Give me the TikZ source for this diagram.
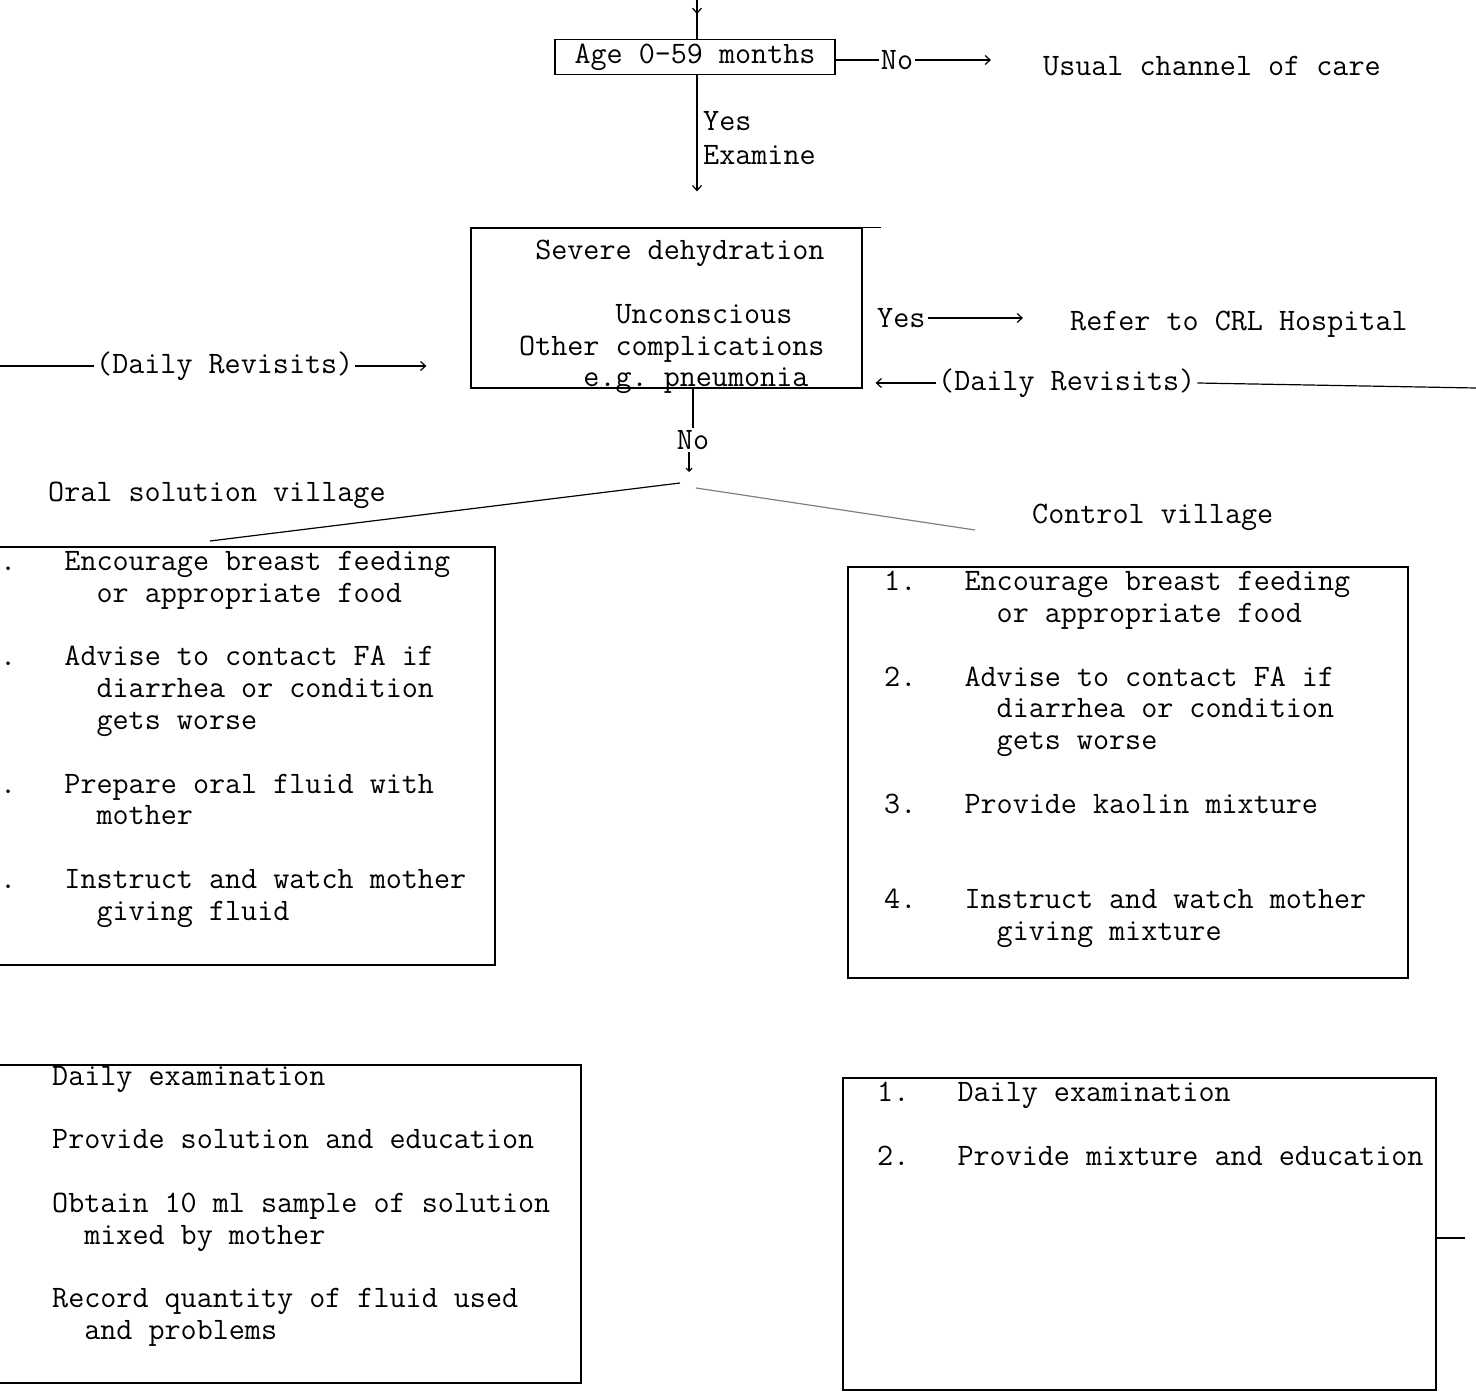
\documentclass[tikz,border=0pt]{standalone}
\usetikzlibrary{arrows.meta}
\newcommand\twfont{\ttfamily\fontsize{31.2}{31.8}\selectfont\frenchspacing}
\newcommand\skipc[1]{\hspace*{#1\fontcharwd\font`0}}
\begin{document}
\begin{tikzpicture}[x=1pt,y=-1pt,
  tw/.style={font=\twfont,inner sep=2pt},
  txt/.style={font=\twfont,inner sep=0pt,align=left,anchor=north west},
  boxx/.style={draw,line width=1.2pt,inner sep=0pt},
  ln/.style={line width=1.2pt},
  arr/.style={line width=1.2pt,-{Straight Barb[length=5pt,width=9pt]}}]
\useasboundingbox (0,0) rectangle (1476,1396);
\clip (0,0) rectangle (1476,1396);
\node[boxx,font=\twfont,minimum width=280pt,minimum height=35pt] (age) at (695,57) {Age 0-59 months};
\coordinate (top) at (697,0);
\draw[arr] (top) -- ++(0,14);
\draw[ln] (top) -- (age.north -| top);
\node[tw] (no1) at (897,60) {No};
\node[tw,anchor=west] (usual) at (1041,66) {Usual channel of care};
\draw[ln] (age.east |- no1) -- (no1.west);
\draw[arr,shorten >=50pt] (no1.east) -- (usual.west |- no1);
\node[boxx,minimum width=391pt,minimum height=160pt] (sev) at (666.5,308) {};
\draw[ln] (sev.north east) -- ++(18,0);
\node[txt] (sevtxt) at (519,240) {\skipc{1}Severe dehydration\\ \mbox{}\\ \skipc{6}Unconscious\\ Other complications\\ \skipc{4}e.g. pneumonia};
\draw[arr,shorten >=36pt] (age.south -| top) -- (top |- sev.north);
\node[tw,anchor=west] (yes1) at (701,121) {Yes};
\node[tw,anchor=west] (exam) at (701,155) {Examine};
\node[tw,anchor=west] (yes2) at (875,318) {Yes};
\node[tw,anchor=west] (refer) at (1068,324) {Refer to CRL Hospital};
\draw[arr,shorten >=45pt] (yes2.east) -- (refer.west |- yes2.east);
\node[tw,anchor=west] (drR) at (936,383) {(Daily Revisits)};
\coordinate (rin) at (1476,388);
\draw[ln] (rin) -- (drR.east);
\draw[arr,shorten >=13pt] (drR.west) -- (sev.east |- drR.west);
\node[tw,anchor=west] (drL) at (94,366) {(Daily Revisits)};
\coordinate (lin) at (0,366);
\draw[ln] (lin) -- (drL.west);
\draw[arr,shorten >=44pt] (drL.east) -- (sev.west |- drL.east);
\node[tw] (no2) at (693,440) {No};
\draw[ln] (sev.south -| no2) -- (no2.north);
\coordinate (fork) at (689,472);
\draw[ln,-{Straight Barb[length=3pt,width=6pt]}] (no2.south -| fork) -- (fork);
\coordinate (forkL) at (680,483);
\coordinate (forkR) at (696,488);
\coordinate (endL) at (210,541);
\coordinate (endR) at (975,530);
\draw[ln] (forkL) -- (endL);
\draw[ln,gray] (forkR) -- (endR);
\node[tw,anchor=west] (oralv) at (46,495) {Oral solution village};
\node[tw,anchor=west] (ctrlv) at (1030,517) {Control village};
\node[boxx,minimum width=520pt,minimum height=418pt] (oral) at (235,756) {};
\node[txt] (oraltxt) at (0,551) {.~~~Encourage breast feeding\\ \skipc{6}or appropriate food\\ \mbox{}\\
 .~~~Advise to contact FA if\\ \skipc{6}diarrhea or condition\\ \skipc{6}gets worse\\ \mbox{}\\
 .~~~Prepare oral fluid with\\ \skipc{6}mother\\ \mbox{}\\
 .~~~Instruct and watch mother\\ \skipc{6}giving fluid};
\node[boxx,minimum width=560pt,minimum height=411pt] (ctrl) at (1128,772.5) {};
\node[txt] (ctrltxt) at (884,571) {1.~~~Encourage breast feeding\\ \skipc{7}or appropriate food\\ \mbox{}\\
 2.~~~Advise to contact FA if\\ \skipc{7}diarrhea or condition\\ \skipc{7}gets worse\\ \mbox{}\\
 3.~~~Provide kaolin mixture\\ \mbox{}\\ \mbox{}\\
 4.~~~Instruct and watch mother\\ \skipc{7}giving mixture};
\node[boxx,minimum width=606pt,minimum height=318pt] (oral2) at (278,1224) {};
\node[txt] (oral2txt) at (52,1066) {Daily examination\\ \mbox{}\\ Provide solution and education\\ \mbox{}\\
 Obtain 10 ml sample of solution\\ \skipc{2}mixed by mother\\ \mbox{}\\
 Record quantity of fluid used\\ \skipc{2}and problems};
\node[boxx,minimum width=593pt,minimum height=312pt] (ctrl2) at (1139.5,1234) {};
\node[txt] (ctrl2txt) at (877,1082) {1.~~~Daily examination\\ \mbox{}\\ 2.~~~Provide mixture and education};
\coordinate (stub) at (1465,1238);
\draw[ln] (ctrl2.east |- stub) -- (stub);
\end{tikzpicture}
\end{document}
